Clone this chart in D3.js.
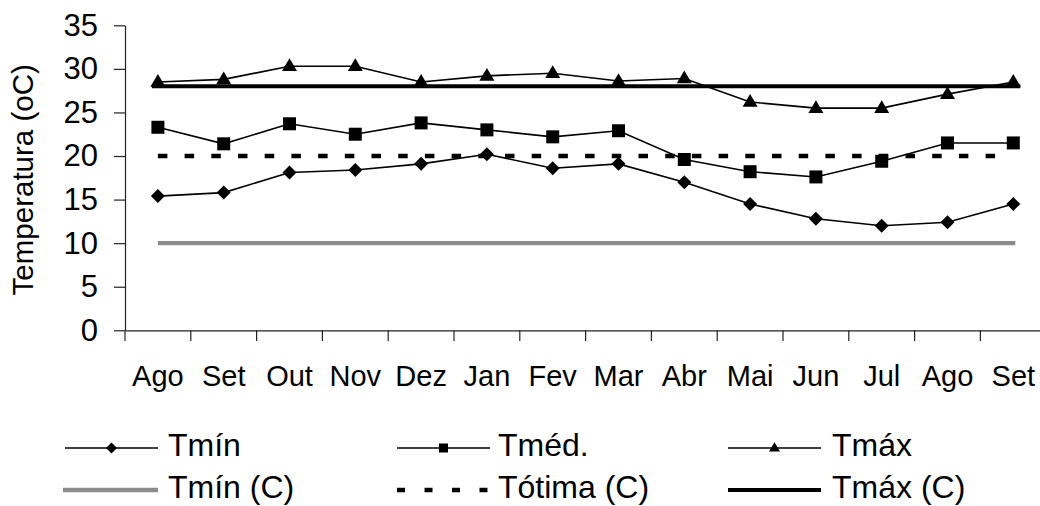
<!DOCTYPE html>
<html><head><meta charset="utf-8">
<script src="https://cdn.jsdelivr.net/npm/d3@7"></script>
<style>
html,body{margin:0;padding:0;background:#fff;}
svg{display:block;font-family:"Liberation Sans",Arial,sans-serif;}
</style></head>
<body>
<svg id="chart" width="1040" height="506"></svg>
<script>
const categories = ["Ago","Set","Out","Nov","Dez","Jan","Fev","Mar","Abr","Mai","Jun","Jul","Ago","Set"];
const tmin  = [15.4,15.8,18.1,18.4,19.1,20.2,18.6,19.1,17.0,14.5,12.8,12.0,12.4,14.5];
const tmed  = [23.3,21.4,23.7,22.5,23.8,23.0,22.2,22.9,19.6,18.2,17.6,19.4,21.5,21.5];
const tmax  = [28.5,28.8,30.3,30.3,28.5,29.2,29.5,28.6,28.9,26.2,25.5,25.5,27.1,28.5];
const tminC = 10, totimaC = 20, tmaxC = 28;
const yTicks = [0,5,10,15,20,25,30,35];
const legendLabels = ["Tmín","Tméd.","Tmáx","Tmín (C)","Tótima (C)","Tmáx (C)"];

const svg = d3.select("#chart");
const idx = categories.map((d,i)=>i);
const x = d3.scaleBand().domain(idx).range([125, 125 + 14*65.8]).padding(0);
const y = d3.scaleLinear().domain([0,35]).range([330.3, 25.3]);
const cx = i => x(i) + x.bandwidth()/2;

// Y axis
const yAxis = svg.append("g").attr("transform","translate(125,0)")
  .call(d3.axisLeft(y).tickValues(yTicks).tickSize(11).tickPadding(16).tickSizeOuter(0));
yAxis.select(".domain").attr("stroke","#222").attr("stroke-width",1.2);
yAxis.selectAll(".tick line").attr("stroke","#222").attr("stroke-width",1.2);
yAxis.selectAll(".tick text").attr("font-size",31).attr("fill","#000")
  .attr("font-family","Liberation Sans, Arial, sans-serif");

// X axis
const xAxis = svg.append("g").attr("transform","translate(0,330.3)")
  .call(d3.axisBottom(x).tickFormat(i=>categories[i]).tickSize(0).tickPadding(35));
xAxis.select(".domain").attr("stroke","#222").attr("stroke-width",1.2);
xAxis.selectAll(".tick text").attr("font-size",29).attr("fill","#000")
  .attr("font-family","Liberation Sans, Arial, sans-serif");
// category boundary ticks
const bounds = d3.range(1,15).map(k=> x.range()[0] + k*x.bandwidth()).concat([x.range()[0]]);
svg.append("g").selectAll("line").data(bounds).join("line")
  .attr("x1",d=>d).attr("x2",d=>d).attr("y1",330.3).attr("y2",341)
  .attr("stroke","#222").attr("stroke-width",1.2);

// Y title
svg.append("text").attr("transform","translate(33,"+((y(0)+y(35))/2 + 2)+") rotate(-90)")
  .attr("text-anchor","middle").attr("font-size",29.5).text("Temperatura (oC)");

// Reference lines
const first = cx(0), last = cx(categories.length-1);
svg.append("line").attr("x1",first).attr("x2",last+2).attr("y1",y(tminC)).attr("y2",y(tminC))
  .attr("stroke","#8c8c8c").attr("stroke-width",4.3);
svg.append("line").attr("x1",first).attr("x2",last-12).attr("y1",y(totimaC)).attr("y2",y(totimaC))
  .attr("stroke","#000").attr("stroke-width",4.3).attr("stroke-dasharray","9.5 17.2");
svg.append("line").attr("x1",first-6).attr("x2",last+7).attr("y1",y(tmaxC)).attr("y2",y(tmaxC))
  .attr("stroke","#000").attr("stroke-width",4);

// Series
const line = d3.line().x((d,i)=>cx(i)).y(d=>y(d));
const series = [
  {data:tmin, sym:"diamond", size:14},
  {data:tmed, sym:"square", size:13},
  {data:tmax, sym:"triangle", size:15}
];
function symPath(type, w){
  const h=w/2;
  if(type==="diamond"){ return `M0,${-h}L${h},0L0,${h}L${-h},0Z`; }
  if(type==="square"){ return `M${-h},${-h}H${h}V${h}H${-h}Z`; }
  const t=w*0.85; return `M0,${-t*0.62}L${h},${t*0.38}L${-h},${t*0.38}Z`;
}
series.forEach(s=>{
  svg.append("path").datum(s.data).attr("d",line).attr("fill","none")
    .attr("stroke","#000").attr("stroke-width",1.6);
});
series.forEach(s=>{
  svg.append("g").selectAll("path").data(s.data).join("path")
    .attr("transform",(d,i)=>`translate(${cx(i)},${y(d)})`)
    .attr("d",symPath(s.sym,s.size)).attr("fill","#000");
});

// Legend
const legCols = [{lx:65, tx:168},{lx:397, tx:498},{lx:728, tx:832}];
const legRows = [448, 490];
const lw = 93;
for(let r=0;r<2;r++){
  for(let c=0;c<3;c++){
    const k = r*3+c, yy = legRows[r], col = legCols[c];
    const g = svg.append("g");
    if(r===0){
      g.append("line").attr("x1",col.lx).attr("x2",col.lx+lw).attr("y1",yy).attr("y2",yy)
        .attr("stroke","#000").attr("stroke-width",1.6);
      g.append("path").attr("transform",`translate(${col.lx+lw/2},${yy})`)
        .attr("d",symPath(series[c].sym, c===1?9:11)).attr("fill","#000");
    } else if(c===0){
      g.append("line").attr("x1",col.lx-2).attr("x2",col.lx+lw).attr("y1",yy).attr("y2",yy)
        .attr("stroke","#8c8c8c").attr("stroke-width",4.3);
    } else if(c===1){
      g.append("line").attr("x1",col.lx).attr("x2",col.lx+lw).attr("y1",yy).attr("y2",yy)
        .attr("stroke","#000").attr("stroke-width",4.3).attr("stroke-dasharray","8 19.5");
    } else {
      g.append("line").attr("x1",col.lx).attr("x2",col.lx+lw).attr("y1",yy).attr("y2",yy)
        .attr("stroke","#000").attr("stroke-width",4);
    }
    g.append("text").attr("x",col.tx).attr("y",yy+8).attr("font-size",32).text(legendLabels[k]);
  }
}
</script>
</body></html>
